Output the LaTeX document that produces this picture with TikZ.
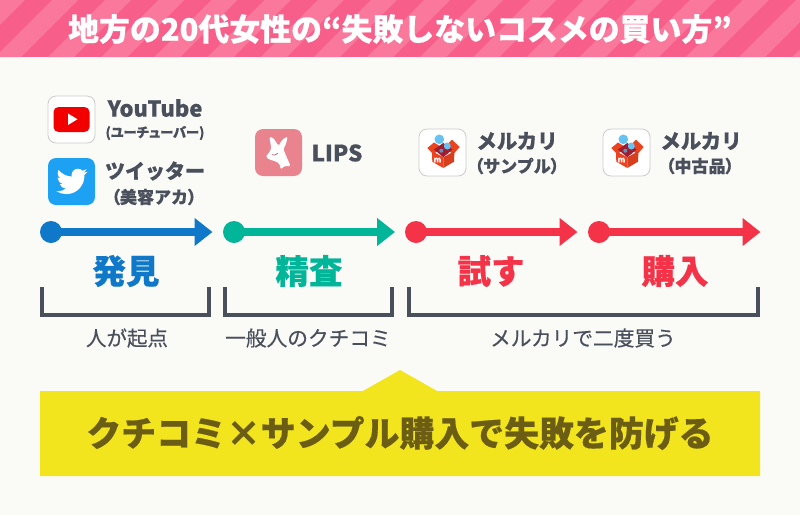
\documentclass[tikz,border=0pt]{standalone}
\usepackage{fontspec}
\setmainfont{Noto Sans CJK JP}[UprightFeatures={FakeBold=0.4},BoldFeatures={FakeBold=0.5}]
\newfontfamily\jpp[RawFeature=+palt,UprightFeatures={FakeBold=0.4},BoldFeatures={FakeBold=0.5}]{Noto Sans CJK JP}
\usetikzlibrary{arrows.meta}
\definecolor{bg}{HTML}{FAFAF6}
\definecolor{pinkA}{HTML}{F75F8A}
\definecolor{pinkB}{HTML}{F9789C}
\definecolor{ink}{HTML}{4A4F5C}
\definecolor{cblue}{HTML}{1078C8}
\definecolor{cteal}{HTML}{00B598}
\definecolor{cred}{HTML}{F43349}
\definecolor{cyel}{HTML}{F2E51E}
\definecolor{colive}{HTML}{6B5E14}
\definecolor{tw}{HTML}{1DA1F2}
\definecolor{lipsp}{HTML}{E9848F}
\definecolor{merc}{HTML}{EA4320}
\definecolor{mercd}{HTML}{A01C30}
\definecolor{mercb}{HTML}{66C2F0}
\tikzset{
  fs/.style={font=\fontsize{#1}{#1}\selectfont},
  fsb/.style={font=\fontsize{#1}{#1}\selectfont\bfseries},
  lab/.style={text=ink,inner sep=0pt,anchor=center},
  dot/.style={circle,inner sep=0pt,minimum size=22pt,fill=#1},
  flow/.style={draw=#1,line width=8pt,-{Triangle[length=18pt,width=27pt,fill=#1]}},
  brk/.style={draw=ink,line width=4pt,line cap=butt,line join=miter},
  icon/.style={rounded corners=8pt},
  pics/mercari/.style={code={
    \draw[icon,fill=white,draw=black!20,line width=.8pt] (0,0) rectangle (47,47);
    \fill[merc] (8.3,19) -- (15,13.5) -- (24,19) -- (14,25) -- cycle;
    \fill[merc] (40.7,18) -- (33,10.7) -- (24.3,19) -- (34.5,25) -- cycle;
    \fill[mercd] (15,20.5) -- (24.3,14) -- (33.5,20.5) -- (24.3,28.3) -- cycle;
    \fill[merc] (13,22) -- (24.3,28.3) -- (24.3,39) -- (13.3,32.7) -- cycle;
    \fill[merc!92!black] (35.5,22) -- (24.3,28.3) -- (24.3,39) -- (35,32.7) -- cycle;
    \fill[mercb] (20.3,10.3) circle (4.8pt);
    \fill[mercb] (28.3,17) circle (3.5pt);
    \fill[mercb!80!black] (22.3,21.7) circle (2pt);
    \node[text=white!90!merc,inner sep=0pt,fsb=8] at (18.5,31) {m};
  }}
}
\begin{document}
\begin{tikzpicture}[x=1pt,y=-1pt]
\useasboundingbox (0,0) rectangle (800,515);
\fill[bg] (0,0) rectangle (800,515);
% header
\begin{scope}
  \clip (0,0) rectangle (800,57);
  \fill[pinkA] (0,0) rectangle (800,57);
  \foreach \k in {-2,...,16} {
    \fill[pinkB] ({\k*53.15+52-57},57) -- ({\k*53.15+78-57},57) -- ({\k*53.15+78},0) -- ({\k*53.15+52},0) -- cycle;
  }
\end{scope}
\node[text=white,inner sep=0pt,fsb=30.9] (title) at (400,29) {地方の20代女性の“失敗しないコスメの買い方”};
% arrows
\node[dot=cblue] (d1) at (51,232) {};
\coordinate (e1) at (212.5,232);
\draw[flow=cblue] (d1.center) -- (e1);
\node[dot=cteal] (d2) at (234,232) {};
\coordinate (e2) at (395,232);
\draw[flow=cteal] (d2.center) -- (e2);
\node[dot=cred] (d3) at (416,232) {};
\coordinate (e3) at (577.5,232);
\draw[flow=cred] (d3.center) -- (e3);
\node[dot=cred] (d4) at (599,232) {};
\coordinate (e4) at (760.5,232);
\draw[flow=cred] (d4.center) -- (e4);
% stage names
\node[text=cblue,inner sep=0pt,fsb=33.5] (s1) at (126,271) {発見};
\node[text=cteal,inner sep=0pt,fsb=33.5] (s2) at (309,271) {精査};
\node[text=cred,inner sep=0pt,fsb=33.5] (s3) at (491,271) {試す};
\node[text=cred,inner sep=0pt,fsb=33.5] (s4) at (675,271) {購入};
% brackets
\draw[brk] (42,287) -- (42,315) -- (209,315) -- (209,287);
\draw[brk] (225,287) -- (225,315) -- (392,315) -- (392,287);
\draw[brk] (409,287) -- (409,315) -- (758,315) -- (758,287);
\node[lab,fs=20.5] (b1) at (127,338) {人が起点};
\node[lab,fs=20.7] (b2) at (308,338) {一般人のクチコミ};
\node[lab,fs=20.7] (b3) at (583,338) {メルカリで二度買う};
% banner
\fill[cyel] (40,391) -- (363,391) -- (400,370) -- (437,391) -- (760,391) -- (760,476) -- (40,476) -- cycle;
\node[text=colive,inner sep=0pt,fsb=34.9] (msg) at (400,433) {クチコミ×サンプル購入で失敗を防げる};
% YouTube icon
\draw[icon,fill=white,draw=black!20,line width=.8pt] (48,96) rectangle (95,143);
\fill[red!95!black,rounded corners=5pt] (53.5,107) rectangle (89.5,132);
\fill[white] (68,113.5) -- (68,125) -- (77.5,119.2) -- cycle;
% Twitter icon
\fill[icon,tw] (48,158) rectangle (95,205);
\begin{scope}[shift={(56.4,165.8)},x=1.3pt,y=-1.3pt]
\fill[white] (23.95,4.57) .. controls (23.1,4.95) and (22.1,5.2) .. (21.13,5.35)
 .. controls (22.15,4.73) and (22.93,3.77) .. (23.29,2.62)
 .. controls (22.34,3.18) and (21.29,3.58) .. (20.17,3.81)
 .. controls (19.27,2.85) and (18.0,2.25) .. (16.58,2.25)
 .. controls (13.87,2.25) and (11.66,4.45) .. (11.66,7.17)
 .. controls (11.66,7.55) and (11.7,7.93) .. (11.79,8.29)
 .. controls (7.69,8.1) and (4.07,6.13) .. (1.64,3.16)
 .. controls (1.22,3.88) and (.97,4.73) .. (.97,5.64)
 .. controls (.97,7.35) and (1.84,8.85) .. (3.16,9.73)
 .. controls (2.35,9.71) and (1.6,9.49) .. (.93,9.12)
 -- (.93,9.18)
 .. controls (.93,11.56) and (2.63,13.55) .. (4.88,14.0)
 .. controls (4.47,14.11) and (4.03,14.17) .. (3.58,14.17)
 .. controls (3.26,14.17) and (2.96,14.14) .. (2.66,14.08)
 .. controls (3.29,16.04) and (5.1,17.46) .. (7.27,17.5)
 .. controls (5.59,18.82) and (3.46,19.6) .. (1.17,19.6)
 .. controls (.78,19.6) and (.39,19.58) .. (0,19.54)
 .. controls (2.19,20.94) and (4.78,21.75) .. (7.56,21.75)
 .. controls (16.61,21.75) and (21.56,14.25) .. (21.56,7.76)
 .. controls (21.56,7.55) and (21.56,7.34) .. (21.55,7.13)
 .. controls (22.51,6.44) and (23.35,5.57) .. (24,4.59) -- cycle;
\end{scope}
% LIPS icon
\fill[icon,lipsp] (255,129) rectangle (302,176);
\begin{scope}[shift={(250,124)},x=.3333pt,y=-.3333pt]
\fill[white,rounded corners=1.5pt] (58,38) -- (70,42) -- (86,66) -- (96,48) -- (113,37) -- (108,60) -- (100,75) -- (108,95) -- (122,127) -- (102,126) -- (93,137) -- (88,118) -- (72,110) -- (58,107) -- (47,98) -- (58,85) -- (64,74) -- cycle;
\draw[lipsp!70!black,line width=.7pt] (66,92) .. controls (71,95) and (78,94) .. (83,88);
\end{scope}
% Mercari icons
\pic at (419,129) {mercari};
\pic at (603,129) {mercari};
% app labels
\node[lab,fsb=22] (yt) at (155,108) {YouTube};
\node[lab,fsb=13.3] (yt2) at (155,133) {\jpp (ユーチューバー)};
\node[lab,fsb=20] (tw1) at (155,171) {ツイッター};
\node[lab,fsb=17] (tw2) at (154,197) {{\jpp （}美容アカ{\jpp ）}};
\node[lab,fsb=22.5] (lp) at (337,153) {LIPS};
\node[lab,fsb=20.5] (m1) at (517,141) {メルカリ};
\node[lab,fsb=17] (m2) at (517,166) {{\jpp （}サンプル{\jpp ）}};
\node[lab,fsb=20.5] (m3) at (701,141) {メルカリ};
\node[lab,fsb=17] (m4) at (700,166) {{\jpp （}中古品{\jpp ）}};
\end{tikzpicture}
\end{document}
